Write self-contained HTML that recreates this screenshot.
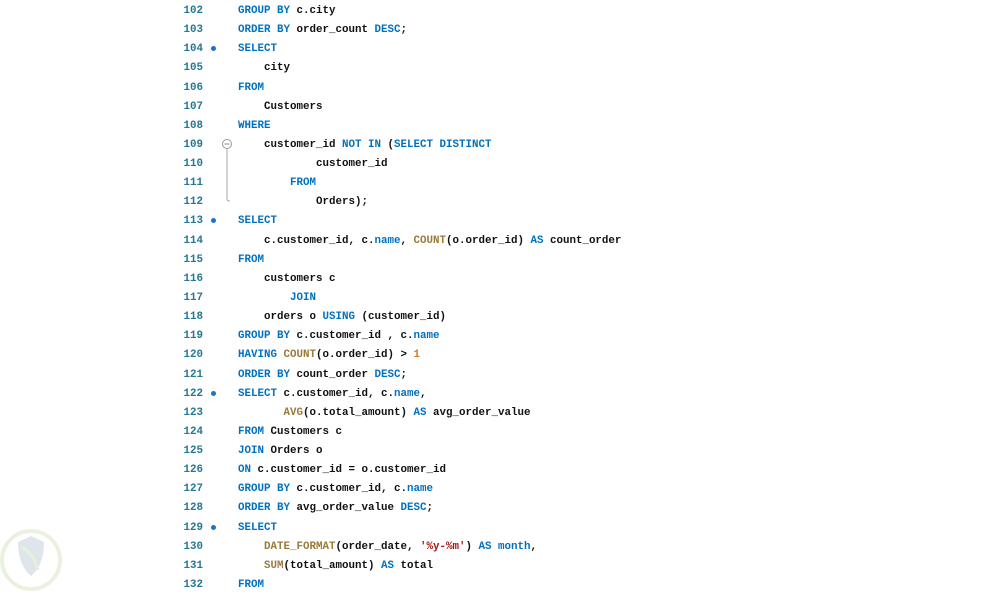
<!DOCTYPE html>
<html><head><meta charset="utf-8"><style>
body{margin:0;width:1000px;height:594px;background:#fff;position:relative;overflow:hidden;font-family:"Liberation Mono",monospace;font-size:10.83px;font-weight:bold}
.l{position:absolute;left:0;height:19px;line-height:19px;white-space:pre;width:1000px;margin-top:2px}
.n{position:absolute;right:797px;color:#237893}
.c{position:absolute;left:238px;color:#111}
.k{color:#0070c1}.f{color:#9a7a3a}.s{color:#a31515}.d{color:#098658}.o{color:#d07a30}
.dot{position:absolute;left:211px;top:6px;width:5px;height:5px;border-radius:50%;background:#1a73d0}
</style></head><body>
<div class="l" style="top:0px"><span class="n">102</span><span class="c"><span class="k">GROUP BY</span> c.city</span></div>
<div class="l" style="top:19.1px"><span class="n">103</span><span class="c"><span class="k">ORDER BY</span> order_count <span class="k">DESC</span>;</span></div>
<div class="l" style="top:38.3px"><span class="n">104</span><i class="dot"></i><span class="c"><span class="k">SELECT</span></span></div>
<div class="l" style="top:57.4px"><span class="n">105</span><span class="c">    city</span></div>
<div class="l" style="top:76.5px"><span class="n">106</span><span class="c"><span class="k">FROM</span></span></div>
<div class="l" style="top:95.7px"><span class="n">107</span><span class="c">    Customers</span></div>
<div class="l" style="top:114.8px"><span class="n">108</span><span class="c"><span class="k">WHERE</span></span></div>
<div class="l" style="top:133.9px"><span class="n">109</span><span class="c">    customer_id <span class="k">NOT IN</span> (<span class="k">SELECT DISTINCT</span></span></div>
<div class="l" style="top:153px"><span class="n">110</span><span class="c">            customer_id</span></div>
<div class="l" style="top:172.2px"><span class="n">111</span><span class="c">        <span class="k">FROM</span></span></div>
<div class="l" style="top:191.3px"><span class="n">112</span><span class="c">            Orders);</span></div>
<div class="l" style="top:210.4px"><span class="n">113</span><i class="dot"></i><span class="c"><span class="k">SELECT</span></span></div>
<div class="l" style="top:229.6px"><span class="n">114</span><span class="c">    c.customer_id, c.<span class="k">name</span>, <span class="f">COUNT</span>(o.order_id) <span class="k">AS</span> count_order</span></div>
<div class="l" style="top:248.7px"><span class="n">115</span><span class="c"><span class="k">FROM</span></span></div>
<div class="l" style="top:267.8px"><span class="n">116</span><span class="c">    customers c</span></div>
<div class="l" style="top:287px"><span class="n">117</span><span class="c">        <span class="k">JOIN</span></span></div>
<div class="l" style="top:306.1px"><span class="n">118</span><span class="c">    orders o <span class="k">USING</span> (customer_id)</span></div>
<div class="l" style="top:325.2px"><span class="n">119</span><span class="c"><span class="k">GROUP BY</span> c.customer_id , c.<span class="k">name</span></span></div>
<div class="l" style="top:344.3px"><span class="n">120</span><span class="c"><span class="k">HAVING</span> <span class="f">COUNT</span>(o.order_id) &gt; <span class="o">1</span></span></div>
<div class="l" style="top:363.5px"><span class="n">121</span><span class="c"><span class="k">ORDER BY</span> count_order <span class="k">DESC</span>;</span></div>
<div class="l" style="top:382.6px"><span class="n">122</span><i class="dot"></i><span class="c"><span class="k">SELECT</span> c.customer_id, c.<span class="k">name</span>,</span></div>
<div class="l" style="top:401.7px"><span class="n">123</span><span class="c">       <span class="f">AVG</span>(o.total_amount) <span class="k">AS</span> avg_order_value</span></div>
<div class="l" style="top:420.9px"><span class="n">124</span><span class="c"><span class="k">FROM</span> Customers c</span></div>
<div class="l" style="top:440px"><span class="n">125</span><span class="c"><span class="k">JOIN</span> Orders o</span></div>
<div class="l" style="top:459.1px"><span class="n">126</span><span class="c"><span class="k">ON</span> c.customer_id = o.customer_id</span></div>
<div class="l" style="top:478.3px"><span class="n">127</span><span class="c"><span class="k">GROUP BY</span> c.customer_id, c.<span class="k">name</span></span></div>
<div class="l" style="top:497.4px"><span class="n">128</span><span class="c"><span class="k">ORDER BY</span> avg_order_value <span class="k">DESC</span>;</span></div>
<div class="l" style="top:516.5px"><span class="n">129</span><i class="dot"></i><span class="c"><span class="k">SELECT</span></span></div>
<div class="l" style="top:535.6px"><span class="n">130</span><span class="c">    <span class="f">DATE_FORMAT</span>(order_date, <span class="s">'%y-%m'</span>) <span class="k">AS</span> <span class="k">month</span>,</span></div>
<div class="l" style="top:554.8px"><span class="n">131</span><span class="c">    <span class="f">SUM</span>(total_amount) <span class="k">AS</span> total</span></div>
<div class="l" style="top:573.9px"><span class="n">132</span><span class="c"><span class="k">FROM</span></span></div>
<svg style="position:absolute;left:0;top:0" width="1000" height="594">
<circle cx="227" cy="144" r="4.5" fill="#fff" stroke="#999" stroke-width="1"/>
<line x1="224.5" y1="144" x2="229.5" y2="144" stroke="#888"/>
<path d="M227 148.5 V199 Q227 201 230 201" fill="none" stroke="#aaa8a0" stroke-width="1"/>
<circle cx="31" cy="560" r="29" fill="none" stroke="#eaf1e0" stroke-width="4"/>
<path d="M18 542 L31 536 L44 542 Q44 565 31 576 Q18 565 18 542Z" fill="#dfe6eb"/>
<path d="M22 548 Q33 552 38 570" stroke="#e8f0dc" stroke-width="3" fill="none"/>
</svg>
</body></html>
